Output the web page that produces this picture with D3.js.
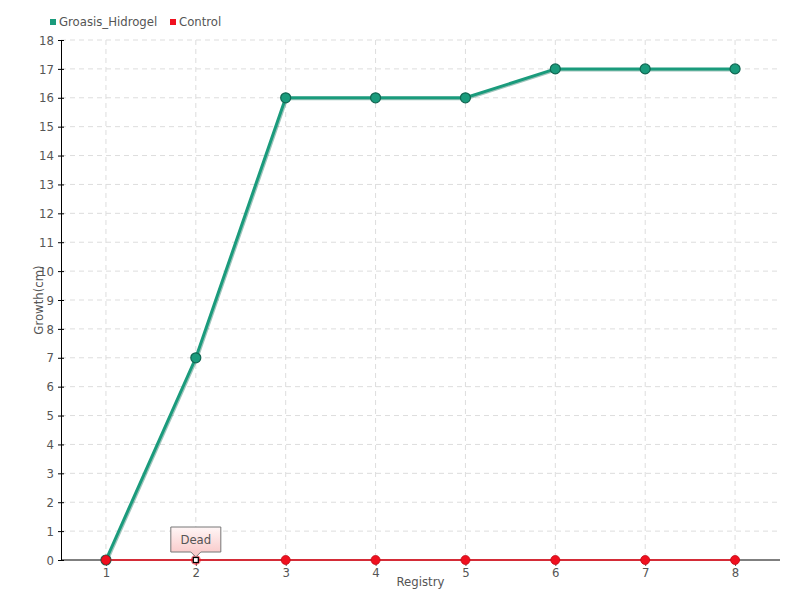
<!DOCTYPE html>
<html>
<head>
<meta charset="utf-8">
<script src="https://cdn.jsdelivr.net/npm/d3@7"></script>
<style>
  body { margin: 0; background: #fff; }
  text { font-family: "DejaVu Sans Condensed", "Liberation Sans Narrow", sans-serif; fill: #555; }
  .grid line { stroke: #ddd; stroke-dasharray: 5,4; }
</style>
</head>
<body>
<div id="chart"></div>
<script>
// Chart data
var registry = ['1', '2', '3', '4', '5', '6', '7', '8'];
var hidrogel = [0, 7, 16, 16, 16, 17, 17, 17];
var control = [0, 0, 0, 0, 0, 0, 0, 0];
var yTicks = d3.range(0, 19);

var margin = { top: 40, right: 20, bottom: 40, left: 61 },
    width = 800 - margin.left - margin.right,
    height = 600 - margin.top - margin.bottom;

var svg = d3.select('#chart')
    .append('svg')
    .attr('width', 800)
    .attr('height', 600);

var g = svg.append('g')
    .attr('transform', 'translate(' + margin.left + ',' + margin.top + ')');

var x = d3.scalePoint()
    .domain(registry)
    .range([0, width])
    .padding(0.5);

var y = d3.scaleLinear()
    .domain([0, 18])
    .range([height, 0]);

// Grid lines
g.append('g')
    .attr('class', 'grid')
    .selectAll('line.h')
    .data(yTicks.slice(1))
    .enter().append('line')
    .attr('x1', 0).attr('x2', width)
    .attr('y1', function(d) { return y(d); })
    .attr('y2', function(d) { return y(d); });

g.select('.grid')
    .selectAll('line.v')
    .data(registry)
    .enter().append('line')
    .attr('y1', 0).attr('y2', height)
    .attr('x1', function(d) { return x(d); })
    .attr('x2', function(d) { return x(d); });

// Axes
var xAxis = g.append('g')
    .attr('transform', 'translate(0,' + height + ')')
    .call(d3.axisBottom(x).tickSize(6).tickPadding(2).tickSizeOuter(0));
xAxis.select('.domain').attr('d', 'M0,0H' + width);

var yAxis = g.append('g')
    .call(d3.axisLeft(y).tickValues(yTicks).tickSizeInner(3).tickSizeOuter(0).tickPadding(4));
yAxis.selectAll('.tick line').attr('x2', 3).attr('x1', -3);

g.selectAll('.domain, .tick line').attr('stroke', '#000');
g.selectAll('.tick text').style('font-size', '13px').attr('fill', '#555');
xAxis.selectAll('.tick line').attr('stroke', '#555');

// Axis labels
g.append('text')
    .attr('x', width / 2)
    .attr('y', height + 26)
    .attr('text-anchor', 'middle')
    .style('font-size', '13px')
    .text('Registry');

g.append('text')
    .attr('transform', 'translate(-18,' + (height / 2) + ') rotate(-90)')
    .attr('text-anchor', 'middle')
    .style('font-size', '13px')
    .text('Growth(cm)');

var line = d3.line()
    .x(function(d, i) { return x(registry[i]); })
    .y(function(d) { return y(d); });

// Control series (red)
g.append('path')
    .datum(control)
    .attr('fill', 'none')
    .attr('stroke', '#f0101f')
    .attr('stroke-width', 1.5)
    .attr('d', line);

// Hidrogel series (green) with dark shadow
g.append('path')
    .datum(hidrogel)
    .attr('fill', 'none')
    .attr('stroke', '#0f6b55')
    .attr('stroke-width', 3)
    .attr('transform', 'translate(1,1)')
    .attr('opacity', 0.4)
    .attr('d', line);

g.append('path')
    .datum(hidrogel)
    .attr('fill', 'none')
    .attr('stroke', '#1a9b7c')
    .attr('stroke-width', 3)
    .attr('d', line);

g.selectAll('circle.h')
    .data(hidrogel)
    .enter().append('circle')
    .attr('cx', function(d, i) { return x(registry[i]); })
    .attr('cy', function(d) { return y(d); })
    .attr('r', 5)
    .attr('fill', '#1a9b7c')
    .attr('stroke', '#116652')
    .attr('stroke-width', 1.2);

g.selectAll('circle.c')
    .data(control)
    .enter().append('circle')
    .attr('cx', function(d, i) { return x(registry[i]); })
    .attr('cy', function(d) { return y(d); })
    .attr('r', 4.5)
    .attr('fill', '#f0101f')
    .attr('stroke', '#c20a18')
    .attr('stroke-width', 0.8)
    .attr('opacity', function(d, i) { return i === 1 ? 0 : 1; });

// Highlighted point with tooltip
var hx = x(registry[1]), hy = y(control[1]);
g.append('circle')
    .attr('cx', hx).attr('cy', hy).attr('r', 5)
    .attr('fill', '#f0101f').attr('opacity', 0.6);
g.append('rect')
    .attr('x', hx - 2.5).attr('y', hy - 2.5)
    .attr('width', 5).attr('height', 5)
    .attr('fill', '#fff').attr('stroke', '#000').attr('stroke-width', 1.2);

var grad = svg.append('defs').append('linearGradient')
    .attr('id', 'tipGrad').attr('x1', 0).attr('y1', 0).attr('x2', 0).attr('y2', 1);
grad.append('stop').attr('offset', '0%').attr('stop-color', '#fff6f6');
grad.append('stop').attr('offset', '100%').attr('stop-color', '#f8c4c4');

var tw = 50, th = 25, ty = hy - 33;
g.append('path')
    .attr('d', 'M' + (hx - tw / 2) + ',' + ty + 'h' + tw + 'v' + th + 'h' + (-tw / 2 + 5) +
        'l-5,5l-5,-5h' + (-tw / 2 + 5) + 'z')
    .attr('fill', 'url(#tipGrad)')
    .attr('stroke', '#777')
    .attr('stroke-width', 1);
g.append('text')
    .attr('x', hx).attr('y', ty + 17)
    .attr('text-anchor', 'middle')
    .style('font-size', '13px')
    .text('Dead');

// Legend
var legend = svg.append('g').attr('transform', 'translate(50,21)');
legend.append('rect').attr('x', 0).attr('y', -2).attr('width', 6).attr('height', 6).attr('fill', '#1a9b7c');
legend.append('text').attr('x', 9).attr('y', 5).style('font-size', '13px').text('Groasis_Hidrogel');
legend.append('rect').attr('x', 120).attr('y', -2).attr('width', 6).attr('height', 6).attr('fill', '#f0101f');
legend.append('text').attr('x', 129).attr('y', 5).style('font-size', '13px').text('Control');
</script>
</body>
</html>
